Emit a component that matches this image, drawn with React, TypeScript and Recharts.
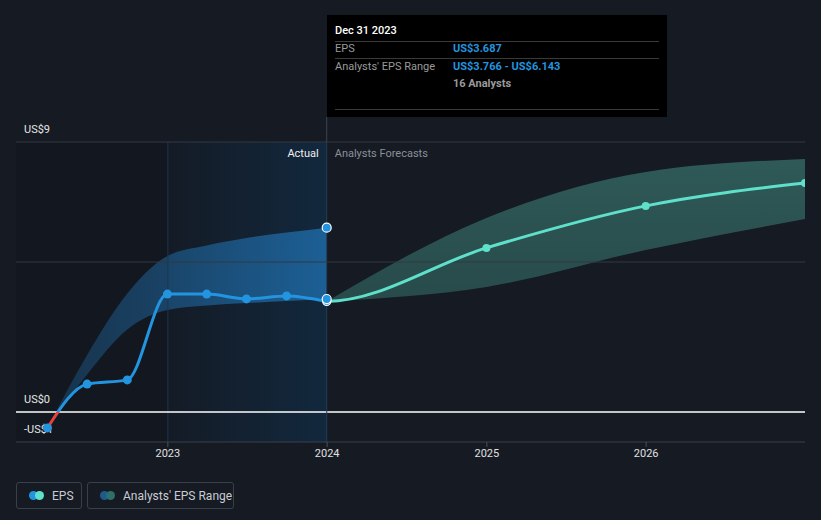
import React from "react";
import {
  ComposedChart,
  Line,
  Area,
  XAxis,
  YAxis,
  ReferenceLine,
  ReferenceArea,
  ReferenceDot,
} from "recharts";

// ---- data ----
const historyDates = [
  "2022-03-31",
  "2022-06-30",
  "2022-09-30",
  "2022-12-31",
  "2023-03-31",
  "2023-06-30",
  "2023-09-30",
  "2023-12-31",
];
const historyEps = [-0.53, 0.93, 1.07, 3.93, 3.93, 3.77, 3.87, 3.687];
const historyLow = [-0.53, 1.25, 2.75, 3.4, 3.55, 3.63, 3.7, 3.766];
const historyHigh = [-0.53, 1.9, 3.95, 5.2, 5.55, 5.8, 5.98, 6.143];

const forecastDates = ["2023-12-31", "2024-12-31", "2025-12-31", "2026-12-31"];
const forecastEps = [3.687, 5.47, 6.87, 7.63];
const forecastLow = [3.687, 4.17, 5.4, 6.43];
const forecastHigh = [3.687, 6.47, 8.0, 8.43];

const xTickDates = ["2023-01-01", "2024-01-01", "2025-01-01", "2026-01-01"];
const domainDates = ["2022-01-18", "2026-12-31"];
const yDomain = [-1, 9];
const yGridValues = [9, 5];
const yLabelValues = [9, 0, -1];
const yLabelTexts = ["US$9", "US$0", "-US$1"];

const toTs = (d: string) => Date.parse(d + "T00:00:00Z");

type Row = {
  t: number;
  eps?: number;
  histRange?: [number, number];
  fc?: number;
  fcRange?: [number, number];
};

const rows: Row[] = [];
historyDates.forEach((d, i) => {
  rows.push({ t: toTs(d), eps: historyEps[i], histRange: [historyLow[i], historyHigh[i]] });
});
forecastDates.forEach((d, i) => {
  const t = toTs(d);
  const ex = rows.find((r) => r.t === t);
  if (ex) {
    ex.fc = forecastEps[i];
    ex.fcRange = [forecastLow[i], forecastHigh[i]];
  } else {
    rows.push({ t, fc: forecastEps[i], fcRange: [forecastLow[i], forecastHigh[i]] });
  }
});

const BLUE = "#2394df";
const TEAL = "#5fe0cb";
const RED = "#e5423f";
const FONT = "Roboto, 'Noto Sans', sans-serif";

const epsMax = Math.max(...historyEps);
const epsMin = Math.min(...historyEps);
const zeroOffset = (epsMax - 0) / (epsMax - epsMin);

const lastHistT = toTs(historyDates[historyDates.length - 1]);
const firstFcT = toTs(forecastDates[0]);

// Monotone cubic curve (like d3 monotoneX) but starting with a flat tangent,
// continuing the turning point where the forecast joins the reported EPS.
function flatStartMonotone(context: any) {
  let xs: number[] = [];
  let ys: number[] = [];
  return {
    areaStart() {},
    areaEnd() {},
    lineStart() {
      xs = [];
      ys = [];
    },
    point(x: number, y: number) {
      xs.push(+x);
      ys.push(+y);
    },
    lineEnd() {
      const n = xs.length;
      if (n === 0) return;
      context.moveTo(xs[0], ys[0]);
      if (n === 1) return;
      const sign = (v: number) => (v < 0 ? -1 : 1);
      const slopes: number[] = [];
      for (let i = 0; i < n - 1; i++) slopes.push((ys[i + 1] - ys[i]) / (xs[i + 1] - xs[i]));
      const t: number[] = new Array(n).fill(0);
      for (let i = 1; i < n - 1; i++) {
        const h0 = xs[i] - xs[i - 1];
        const h1 = xs[i + 1] - xs[i];
        const s0 = slopes[i - 1];
        const s1 = slopes[i];
        const p = (s0 * h1 + s1 * h0) / (h0 + h1);
        t[i] = (sign(s0) + sign(s1)) * Math.min(Math.abs(s0), Math.abs(s1), 0.5 * Math.abs(p)) || 0;
      }
      t[0] = 0;
      if (n > 2) {
        const h = xs[n - 1] - xs[n - 2];
        t[n - 1] = (3 * (ys[n - 1] - ys[n - 2]) / h - t[n - 2]) / 2;
      } else {
        t[n - 1] = slopes[0];
      }
      for (let i = 0; i < n - 1; i++) {
        const dx = (xs[i + 1] - xs[i]) / 3;
        context.bezierCurveTo(
          xs[i] + dx,
          ys[i] + dx * t[i],
          xs[i + 1] - dx,
          ys[i + 1] - dx * t[i + 1],
          xs[i + 1],
          ys[i + 1]
        );
      }
    },
  };
}

const EpsDot = (props: any) => {
  const { cx, cy, payload, index } = props;
  if (cx == null || cy == null || payload.eps == null) return <g key={"ed" + index} />;
  const isLast = payload.t === lastHistT;
  return (
    <circle
      key={"ed" + index}
      cx={cx}
      cy={cy}
      r={isLast ? 4 : 4.5}
      fill={BLUE}
      stroke={isLast ? "#fff" : "none"}
      strokeWidth={isLast ? 1.2 : 0}
    />
  );
};

const FcDot = (props: any) => {
  const { cx, cy, payload, index } = props;
  if (cx == null || cy == null || payload.fc == null || payload.t === firstFcT)
    return <g key={"fd" + index} />;
  return <circle key={"fd" + index} cx={cx} cy={cy} r={4} fill={TEAL} />;
};

const YLabel = (text: string) => (props: any) => {
  const { viewBox } = props;
  return (
    <text
      x={viewBox.x + 8}
      y={viewBox.y - 12}
      fill="#e6e6e6"
      fontSize={11}
      fontFamily={FONT}
      dominantBaseline="middle"
    >
      {text}
    </text>
  );
};

const DividerLabel = (props: any) => {
  const { viewBox } = props;
  const x = viewBox.x;
  const y = viewBox.y;
  return (
    <g>
      <line x1={x} x2={x} y1={117} y2={y} stroke="#3d4452" strokeWidth={1} />
      <text x={x - 8} y={y + 12} textAnchor="end" fill="#f0f0f0" fontSize={11} fontFamily={FONT} dominantBaseline="middle">
        Actual
      </text>
      <text x={x + 8} y={y + 12} textAnchor="start" fill="#8b9099" fontSize={11} fontFamily={FONT} dominantBaseline="middle">
        Analysts Forecasts
      </text>
    </g>
  );
};

const legendBox: React.CSSProperties = {
  height: 27,
  border: "1px solid #3a3f49",
  borderRadius: 3,
  boxSizing: "border-box",
  display: "flex",
  alignItems: "center",
  paddingLeft: 12,
  color: "#c8ccd2",
  fontSize: 12,
  whiteSpace: "nowrap",
};

const LegendDots = ({ a, b }: { a: string; b: string }) => (
  <span style={{ position: "relative", width: 15, height: 9, display: "inline-block", marginRight: 8 }}>
    <span style={{ position: "absolute", left: 0, top: 0, width: 9, height: 9, borderRadius: 5, background: a }} />
    <span style={{ position: "absolute", left: 6, top: 0, width: 9, height: 9, borderRadius: 5, background: b }} />
  </span>
);

const Legend = () => (
  <div style={{ position: "absolute", left: 16, top: 482, display: "flex", gap: 5, fontFamily: FONT }}>
    <div style={{ ...legendBox, width: 66 }}>
      <LegendDots a={BLUE} b={TEAL} />
      EPS
    </div>
    <div style={{ ...legendBox, width: 147 }}>
      <LegendDots a="#1f5a8c" b="#2f6f6a" />
      Analysts' EPS Range
    </div>
  </div>
);

const Tip = () => {
  const line = (top: number) => (
    <div style={{ position: "absolute", left: 8, right: 8, top, height: 1, background: "#3a3a3a" }} />
  );
  const txt = (left: number, top: number, s: string, color: string, weight = 400) => (
    <div style={{ position: "absolute", left, top, fontSize: 11, lineHeight: "14px", color, fontWeight: weight, whiteSpace: "nowrap" }}>
      {s}
    </div>
  );
  return (
    <div
      style={{
        position: "absolute",
        left: 327,
        top: 15,
        width: 340,
        height: 102,
        background: "#000",
        fontFamily: FONT,
      }}
    >
      {txt(8, 9, "Dec 31 2023", "#ffffff", 500)}
      {line(26)}
      {txt(8, 27, "EPS", "#9a9a9a")}
      {txt(126, 27, "US$3.687", BLUE, 700)}
      {line(43)}
      {txt(8, 45, "Analysts' EPS Range", "#9a9a9a")}
      {txt(126, 45, "US$3.766 - US$6.143", BLUE, 700)}
      {txt(126, 62, "16 Analysts", "#9a9a9a", 700)}
      {line(94)}
    </div>
  );
};

export default function App() {
  const t2023 = toTs("2023-01-01");
  return (
    <div style={{ position: "absolute", left: 0, top: 0, width: 821, height: 520, background: "#151a23", overflow: "hidden" }}>
      <ComposedChart
        width={821}
        height={520}
        data={rows}
        margin={{ top: 142, right: 16, bottom: 48, left: 16 }}
      >
        <defs>
          <linearGradient id="epsStroke" x1="0" y1="0" x2="0" y2="1">
            <stop offset={0} stopColor={BLUE} />
            <stop offset={zeroOffset} stopColor={BLUE} />
            <stop offset={zeroOffset} stopColor={RED} />
            <stop offset={1} stopColor={RED} />
          </linearGradient>
          <linearGradient id="actualBg" x1="0" y1="0" x2="1" y2="0">
            <stop offset={0} stopColor="#141b26" />
            <stop offset={1} stopColor="#12283d" />
          </linearGradient>
          <linearGradient id="histBand" x1="0" y1="0" x2="1" y2="0">
            <stop offset={0} stopColor="#2384cf" stopOpacity={0.25} />
            <stop offset={1} stopColor="#2384cf" stopOpacity={0.6} />
          </linearGradient>
          <linearGradient id="fcBand" x1="0" y1="0" x2="0" y2="1">
            <stop offset={0} stopColor="#64e1c8" stopOpacity={0.32} />
            <stop offset={1} stopColor="#64e1c8" stopOpacity={0.24} />
          </linearGradient>
        </defs>
        <XAxis
          dataKey="t"
          type="number"
          domain={domainDates.map(toTs)}
          ticks={xTickDates.map(toTs)}
          tickFormatter={(v: number) => String(new Date(v).getUTCFullYear())}
          allowDataOverflow
          height={30}
          stroke="#3b404a"
          tick={{ fill: "#e0e0e0", fontSize: 11, fontFamily: FONT }}
          tickLine={{ stroke: "#4a4f58" }}
          tickSize={5}
        />
        <YAxis hide domain={yDomain} type="number" allowDataOverflow />
        <ReferenceArea x1={toTs(domainDates[0])} x2={t2023} y1={yDomain[0]} y2={yDomain[1]} fill="#13171f" fillOpacity={1} stroke="none" />
        <ReferenceArea x1={t2023} x2={lastHistT} y1={yDomain[0]} y2={yDomain[1]} fill="url(#actualBg)" fillOpacity={1} stroke="none" />
        <ReferenceLine x={t2023} stroke="#1a3650" strokeWidth={1} />
        {yGridValues.map((v) => (
          <ReferenceLine key={"g" + v} y={v} stroke="#323843" strokeWidth={1} />
        ))}
        {yLabelValues.map((v, i) => (
          <ReferenceLine key={"l" + v} y={v} stroke="none" label={YLabel(yLabelTexts[i])} />
        ))}
        <ReferenceLine y={0} stroke="#ffffff" strokeWidth={1.3} />
        <ReferenceLine x={lastHistT} stroke="#253d56" strokeWidth={1} label={DividerLabel} />
        <Area
          dataKey="histRange"
          type="monotone"
          stroke="none"
          fill="url(#histBand)"
          fillOpacity={1}
          isAnimationActive={false}
          activeDot={false}
          dot={false}
        />
        <Area
          dataKey="fcRange"
          type="monotone"
          stroke="none"
          fill="url(#fcBand)"
          fillOpacity={1}
          isAnimationActive={false}
          activeDot={false}
          dot={false}
        />
        <Line
          dataKey="fc"
          type={flatStartMonotone as any}
          stroke={TEAL}
          strokeWidth={3}
          dot={FcDot}
          activeDot={false}
          isAnimationActive={false}
        />
        <Line
          dataKey="eps"
          type="monotone"
          stroke="url(#epsStroke)"
          strokeWidth={3}
          dot={EpsDot}
          activeDot={false}
          isAnimationActive={false}
        />
        <ReferenceDot x={lastHistT} y={historyHigh[historyHigh.length - 1]} r={4.5} fill={BLUE} stroke="#fff" strokeWidth={1.2} />
        <ReferenceDot x={lastHistT} y={historyLow[historyLow.length - 1]} r={4.5} fill={BLUE} stroke="#fff" strokeWidth={1.2} />
      </ComposedChart>
      <Tip />
      <Legend />
    </div>
  );
}
